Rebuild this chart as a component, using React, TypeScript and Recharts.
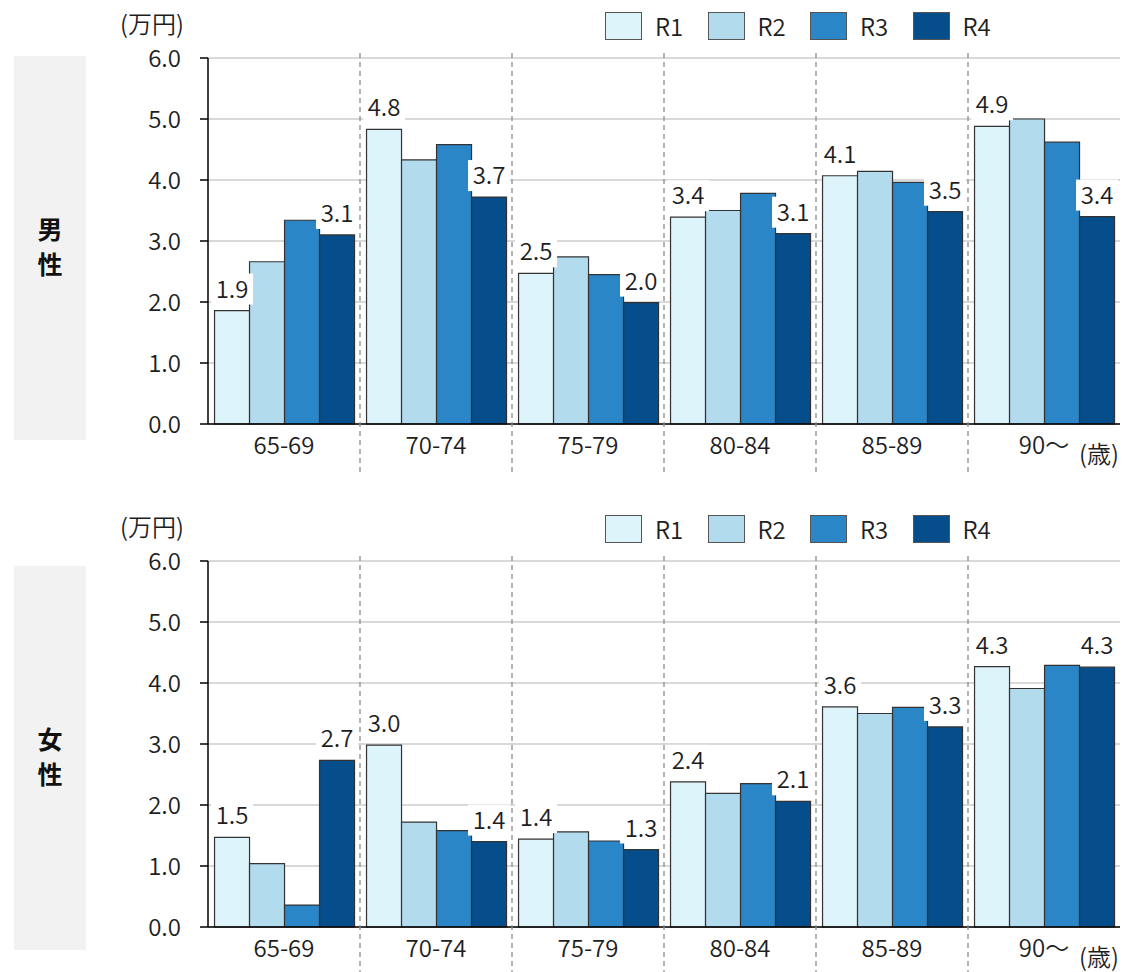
import React from 'react';
import { BarChart, Bar, XAxis, YAxis, CartesianGrid, LabelList } from 'recharts';

const categories = ['65-69', '70-74', '75-79', '80-84', '85-89', '90～'];
const seriesNames = ['R1', 'R2', 'R3', 'R4'];
const seriesColors = ['#ddf4fb', '#b3dbee', '#2a86c6', '#054e8b'];

const maleR1 = [1.86, 4.83, 2.47, 3.39, 4.07, 4.88];
const maleR2 = [2.66, 4.33, 2.74, 3.5, 4.14, 5.0];
const maleR3 = [3.34, 4.58, 2.45, 3.78, 3.96, 4.62];
const maleR4 = [3.1, 3.72, 1.99, 3.12, 3.48, 3.4];

const femaleR1 = [1.47, 2.98, 1.44, 2.38, 3.61, 4.27];
const femaleR2 = [1.04, 1.72, 1.56, 2.19, 3.5, 3.91];
const femaleR3 = [0.36, 1.58, 1.41, 2.35, 3.6, 4.29];
const femaleR4 = [2.73, 1.4, 1.27, 2.06, 3.28, 4.26];

const yTicks = [0, 1, 2, 3, 4, 5, 6];
const labeledSeries = ['R1', 'R4'];
const unitLabel = '(万円)';
const ageUnitLabel = '(歳)';

const FONT = '"Noto Sans CJK JP", "Noto Sans", sans-serif';
const W = 1134;
const H = 480;
const PLOT_TOP = 58;
const PLOT_BOTTOM = 424;
const TEXT = '#1e1e1e';
const LIGHT = 350;

function buildRows(s: number[][]) {
  return categories.map((c, i) => {
    const row: any = { cat: c };
    seriesNames.forEach((n, k) => {
      row[n] = s[k][i];
    });
    return row;
  });
}

const maleRows = buildRows([maleR1, maleR2, maleR3, maleR4]);
const femaleRows = buildRows([femaleR1, femaleR2, femaleR3, femaleR4]);

const DataLabel = (props: any) => {
  const { x, y, width, value } = props;
  const cx = Number(x) + Number(width) / 2;
  const top = Number(y);
  return (
    <g>
      <rect x={cx - 21} y={top - 37} width={42} height={31} fill="#ffffff" />
      <text
        x={cx}
        y={top - 13}
        textAnchor="middle"
        fontSize={24}
        fontWeight={LIGHT}
        fill={TEXT}
        fontFamily={FONT}
      >
        {Number(value).toFixed(1)}
      </text>
    </g>
  );
};

const CatTick = (props: any) => {
  const { x, y, payload, index } = props;
  const half = payload && typeof payload.offset === 'number' ? payload.offset : null;
  const bx = half != null ? Number(x) - half : null;
  return (
    <g>
      {index > 0 && bx != null ? (
        <line
          x1={bx}
          x2={bx}
          y1={PLOT_TOP - 5}
          y2={PLOT_BOTTOM + 48}
          stroke="#8c8c8c"
          strokeWidth={1.3}
          strokeDasharray="5 4"
        />
      ) : null}
      <text
        x={x}
        y={y}
        dy="0.71em"
        textAnchor="middle"
        fontSize={24}
        fontWeight={LIGHT}
        fill={TEXT}
        fontFamily={FONT}
      >
        {payload ? payload.value : ''}
      </text>
    </g>
  );
};

function Panel({
  rows,
  top,
  gender,
  boxTop,
}: {
  rows: any[];
  top: number;
  gender: string;
  boxTop: number;
}) {
  return (
    <div style={{ position: 'absolute', left: 0, top, width: W, height: H }}>
      <div
        style={{
          position: 'absolute',
          left: 14,
          top: boxTop,
          width: 72,
          height: 384,
          background: '#f2f2f2',
        }}
      />
      <div
        style={{
          position: 'absolute',
          left: 14,
          top: boxTop + 155,
          width: 72,
          textAlign: 'center',
          fontFamily: FONT,
          fontWeight: 700,
          fontSize: 25,
          lineHeight: '35px',
          color: '#111',
        }}
      >
        {gender.split('').map((ch, i) => (
          <div key={i}>{ch}</div>
        ))}
      </div>
      <div
        style={{
          position: 'absolute',
          left: 120,
          top: 5,
          fontFamily: FONT,
          fontSize: 24,
          fontWeight: LIGHT,
          lineHeight: '36px',
          color: TEXT,
        }}
      >
        {unitLabel}
      </div>
      <div
        style={{
          position: 'absolute',
          left: 1079,
          top: 435,
          fontFamily: FONT,
          fontSize: 24,
          fontWeight: LIGHT,
          lineHeight: '36px',
          color: TEXT,
        }}
      >
        {ageUnitLabel}
      </div>
      {seriesNames.map((n, i) => (
        <div key={n} style={{ position: 'absolute', left: 605 + i * 102.5, top: 12, height: 29 }}>
          <div
            style={{
              position: 'absolute',
              left: 0,
              top: 0,
              width: 35,
              height: 26,
              background: seriesColors[i],
              border: '1.5px solid #555',
            }}
          />
          <div
            style={{
              position: 'absolute',
              left: 50,
              top: -4,
              fontFamily: FONT,
              fontSize: 24,
              fontWeight: LIGHT,
              lineHeight: '36px',
              color: TEXT,
            }}
          >
            {n}
          </div>
        </div>
      ))}
      <BarChart
        width={W}
        height={H}
        data={rows}
        margin={{ top: PLOT_TOP, right: 14, left: 0, bottom: 0 }}
        barCategoryGap="4.3%"
        barGap={0}
        style={{ position: 'absolute', left: 0, top: 0 }}
      >
        <CartesianGrid vertical={false} stroke="#d9d9d9" strokeWidth={2} />
        <XAxis
          xAxisId="cat"
          dataKey="cat"
          height={H - PLOT_BOTTOM}
          axisLine={{ stroke: '#000', strokeWidth: 1.5 }}
          tickLine={false}
          tickSize={0}
          tickMargin={13}
          interval={0}
          tick={<CatTick />}
        />
        <YAxis
          width={208}
          domain={[0, 6]}
          ticks={yTicks}
          interval={0}
          tickFormatter={(v: number) => v.toFixed(1)}
          axisLine={{ stroke: '#000', strokeWidth: 1.5 }}
          tickLine={{ stroke: '#000', strokeWidth: 1.5 }}
          tickSize={8}
          tickMargin={19}
          tick={{ fontSize: 24, fontWeight: LIGHT, fill: TEXT, fontFamily: FONT }}
        />
        {seriesNames.map((n, i) => (
          <Bar
            key={n}
            xAxisId="cat"
            dataKey={n}
            fill={seriesColors[i]}
            stroke="#333"
            strokeWidth={1.2}
            isAnimationActive={false}
          >
            {labeledSeries.includes(n) ? <LabelList dataKey={n} content={<DataLabel />} /> : null}
          </Bar>
        ))}
      </BarChart>
    </div>
  );
}

export default function App() {
  return (
    <div style={{ position: 'absolute', left: 0, top: 0, width: W, height: 972, background: '#fff' }}>
      <Panel rows={maleRows} top={0} gender="男性" boxTop={56} />
      <Panel rows={femaleRows} top={503} gender="女性" boxTop={63} />
    </div>
  );
}
